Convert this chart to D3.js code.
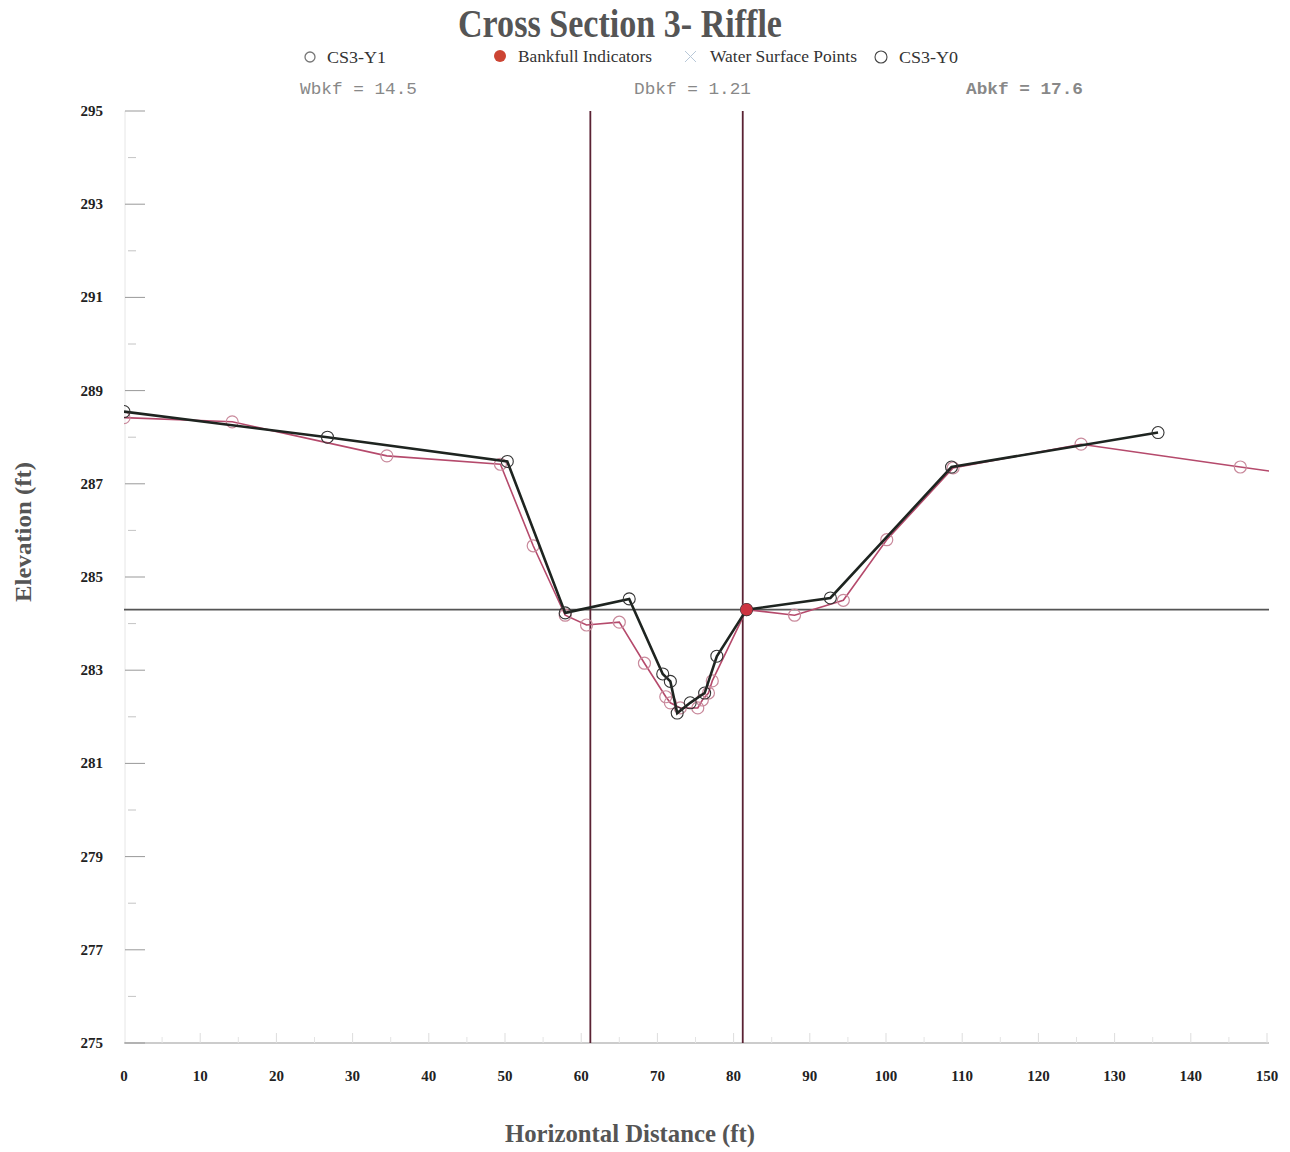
<!DOCTYPE html>
<html>
<head>
<meta charset="utf-8">
<script src="https://cdn.jsdelivr.net/npm/d3@7"></script>
<style>
  html, body { margin: 0; padding: 0; background: #fff; }
  svg { display: block; }
</style>
</head>
<body>
<svg id="chart" width="1290" height="1152"></svg>
<script>
// Cross section survey, station (ft) and elevation (ft)
const y0Station   = [0, 26.7, 50.3, 57.9, 66.3, 70.7, 71.7, 72.6, 74.3, 76.2, 77.8, 81.7, 92.7, 108.6, 135.7];
const y0Elevation = [288.55, 288.0, 287.48, 284.23, 284.53, 282.92, 282.76, 282.08, 282.3, 282.51, 283.3, 284.3, 284.55, 287.36, 288.1];

const y1Station   = [0, 14.2, 34.5, 49.4, 53.7, 57.9, 60.7, 65.0, 68.3, 71.1, 71.7, 73.0, 75.3, 75.9, 76.7, 77.2, 81.7, 88.0, 94.4, 100.1, 108.8, 125.6, 146.5, 160];
const y1Elevation = [288.42, 288.33, 287.6, 287.42, 285.67, 284.18, 283.97, 284.03, 283.15, 282.43, 282.3, 282.19, 282.19, 282.36, 282.51, 282.77, 284.3, 284.18, 284.5, 285.8, 287.34, 287.85, 287.36, 287.05];
// points drawn with markers (last Y1 vertex only carries the line off the edge)
const y1Markers = 23;

const bankfullStation   = [81.7];
const bankfullElevation = [284.3];

// bankfull extents and stage
const bankfullLeft  = 61.2;
const bankfullRight = 81.2;
const bankfullStage = 284.3;

const xTicks = [0, 10, 20, 30, 40, 50, 60, 70, 80, 90, 100, 110, 120, 130, 140, 150];
const xMinorTicks = [5, 15, 25, 35, 45, 55, 65, 75, 85, 95, 105, 115, 125, 135, 145];
const yTicks = [275, 277, 279, 281, 283, 285, 287, 289, 291, 293, 295];
const yMinorTicks = [276, 278, 280, 282, 284, 286, 288, 290, 292, 294];

const legendItems = ["CS3-Y1", "Bankfull Indicators", "Water Surface Points", "CS3-Y0"];
const statLabels = ["Wbkf = 14.5", "Dbkf = 1.21", "Abkf = 17.6"];

const svg = d3.select("#chart");
const plotLeft = 124, plotRight = 1267, plotTop = 111, plotBottom = 1043;

const x = d3.scaleLinear().domain([0, 150]).range([plotLeft, plotRight]);
const y = d3.scaleLinear().domain([275, 295]).range([plotBottom, plotTop]);

const serif = "'Liberation Serif', 'DejaVu Serif', serif";
const mono = "'Liberation Mono', 'DejaVu Sans Mono', monospace";

svg.append("defs").append("clipPath").attr("id", "plotClip")
  .append("rect").attr("x", plotLeft).attr("y", plotTop - 5)
  .attr("width", plotRight - plotLeft + 2).attr("height", plotBottom - plotTop + 10);

// title
svg.append("text").attr("x", 620).attr("y", 37).attr("text-anchor", "middle")
  .attr("font-family", serif).attr("font-weight", "bold").attr("font-size", 40)
  .attr("fill", "#555").attr("textLength", 324).attr("lengthAdjust", "spacingAndGlyphs")
  .text("Cross Section 3- Riffle");

// legend
const lg = svg.append("g").attr("font-family", serif).attr("font-size", 17).attr("fill", "#333");
lg.append("circle").attr("cx", 310).attr("cy", 57).attr("r", 5).attr("fill", "none").attr("stroke", "#777").attr("stroke-width", 1.3);
lg.append("text").attr("x", 327).attr("y", 63).attr("textLength", 59).attr("lengthAdjust", "spacingAndGlyphs").text(legendItems[0]);
lg.append("circle").attr("cx", 500).attr("cy", 56).attr("r", 6).attr("fill", "#cc4433");
lg.append("text").attr("x", 518).attr("y", 62).attr("textLength", 134).attr("lengthAdjust", "spacingAndGlyphs").text(legendItems[1]);
lg.append("path").attr("d", "M685,51 L696,62 M696,51 L685,62").attr("stroke", "#b8c8d8").attr("stroke-width", 1);
lg.append("text").attr("x", 710).attr("y", 62).attr("textLength", 147).attr("lengthAdjust", "spacingAndGlyphs").text(legendItems[2]);
lg.append("circle").attr("cx", 881).attr("cy", 57).attr("r", 6).attr("fill", "none").attr("stroke", "#444").attr("stroke-width", 1.1);
lg.append("text").attr("x", 899).attr("y", 63).attr("textLength", 59).attr("lengthAdjust", "spacingAndGlyphs").text(legendItems[3]);

// bankfull statistics
const statX = [300, 634, 966];
statLabels.forEach((s, i) => {
  svg.append("text").attr("x", statX[i]).attr("y", 94)
    .attr("font-family", mono).attr("font-size", 16)
    .attr("font-weight", i === 2 ? "bold" : "normal")
    .attr("fill", "#888").attr("textLength", 117).attr("lengthAdjust", "spacingAndGlyphs")
    .text(s);
});

// y axis
const ya = svg.append("g");
ya.append("line").attr("x1", plotLeft + 1).attr("x2", plotLeft + 1).attr("y1", plotTop).attr("y2", plotBottom).attr("stroke", "#e6e6e6");
ya.selectAll(".maj").data(yTicks).join("line")
  .attr("x1", plotLeft + 1).attr("x2", plotLeft + 21).attr("y1", d => y(d)).attr("y2", d => y(d))
  .attr("stroke", "#999").attr("stroke-width", 1);
ya.selectAll(".min").data(yMinorTicks).join("line")
  .attr("x1", plotLeft + 4).attr("x2", plotLeft + 12).attr("y1", d => y(d)).attr("y2", d => y(d))
  .attr("stroke", "#c4c4c4").attr("stroke-width", 1);
ya.selectAll("text").data(yTicks).join("text")
  .attr("x", 103).attr("y", d => y(d) + 5).attr("text-anchor", "end")
  .attr("font-family", serif).attr("font-weight", "bold").attr("font-size", 15).attr("fill", "#222")
  .text(d => d);

// x axis
const xa = svg.append("g");
xa.append("line").attr("x1", plotLeft).attr("x2", plotRight + 2).attr("y1", plotBottom).attr("y2", plotBottom).attr("stroke", "#999");
xa.selectAll(".maj").data(xTicks.slice(1)).join("line")
  .attr("x1", d => x(d)).attr("x2", d => x(d)).attr("y1", plotBottom).attr("y2", plotBottom - 10)
  .attr("stroke", "#ddd");
xa.selectAll(".min").data(xMinorTicks).join("line")
  .attr("x1", d => x(d)).attr("x2", d => x(d)).attr("y1", plotBottom).attr("y2", plotBottom - 6)
  .attr("stroke", "#e4e4e4");
xa.selectAll("text").data(xTicks).join("text")
  .attr("x", d => x(d)).attr("y", 1081).attr("text-anchor", "middle")
  .attr("font-family", serif).attr("font-weight", "bold").attr("font-size", 15).attr("fill", "#222")
  .text(d => d);

// axis titles
svg.append("text").attr("transform", "translate(31,532) rotate(-90)").attr("text-anchor", "middle")
  .attr("font-family", serif).attr("font-weight", "bold").attr("font-size", 24).attr("fill", "#555")
  .attr("textLength", 140).attr("lengthAdjust", "spacingAndGlyphs")
  .text("Elevation (ft)");
svg.append("text").attr("x", 630).attr("y", 1142).attr("text-anchor", "middle")
  .attr("font-family", serif).attr("font-weight", "bold").attr("font-size", 25).attr("fill", "#555")
  .attr("textLength", 250).attr("lengthAdjust", "spacingAndGlyphs")
  .text("Horizontal Distance (ft)");

const plot = svg.append("g").attr("clip-path", "url(#plotClip)");

// bankfull stage and extents
plot.append("line").attr("x1", plotLeft).attr("x2", plotRight + 2).attr("y1", y(bankfullStage)).attr("y2", y(bankfullStage))
  .attr("stroke", "#555").attr("stroke-width", 1.6);
[bankfullLeft, bankfullRight].forEach(v => {
  plot.append("line").attr("x1", x(v)).attr("x2", x(v)).attr("y1", plotTop).attr("y2", plotBottom)
    .attr("stroke", "#5a2233").attr("stroke-width", 1.8);
});

const line = d3.line().x(d => x(d[0])).y(d => y(d[1]));
const y1Pts = y1Station.map((s, i) => [s, y1Elevation[i]]);
const y0Pts = y0Station.map((s, i) => [s, y0Elevation[i]]);

// CS3-Y1 survey
plot.append("path").datum(y1Pts).attr("d", line).attr("fill", "none")
  .attr("stroke", "#b54a6c").attr("stroke-width", 1.6);
plot.selectAll(".m1").data(y1Pts.slice(0, y1Markers)).join("circle")
  .attr("cx", d => x(d[0])).attr("cy", d => y(d[1])).attr("r", 6)
  .attr("fill", "none").attr("stroke", "#c98a9c").attr("stroke-width", 1.2);

// CS3-Y0 survey
plot.append("path").datum(y0Pts).attr("d", line).attr("fill", "none")
  .attr("stroke", "#1e2420").attr("stroke-width", 2.6);
plot.selectAll(".m0").data(y0Pts).join("circle")
  .attr("cx", d => x(d[0])).attr("cy", d => y(d[1])).attr("r", 6)
  .attr("fill", "none").attr("stroke", "#333").attr("stroke-width", 1.1);

// bankfull indicator
plot.selectAll(".bk").data(bankfullStation).join("circle")
  .attr("cx", d => x(d)).attr("cy", (d, i) => y(bankfullElevation[i])).attr("r", 6)
  .attr("fill", "#cc3340");
</script>
</body>
</html>
